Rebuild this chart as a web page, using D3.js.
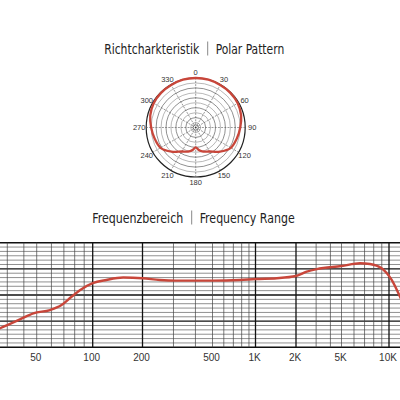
<!DOCTYPE html>
<html>
<head>
<meta charset="utf-8">
<script src="https://cdn.jsdelivr.net/npm/d3@7"></script>
<style>
  body { margin: 0; background: #fff; }
  svg { display: block; }
</style>
</head>
<body>
<div id="chart"></div>
<script>
// polar pattern: angle (deg, clockwise from front) and relative level (0..1)
const polarAngles = [0, 15, 30, 45, 60, 75, 90, 105, 120, 135, 150, 165, 172, 180, 188, 195, 210, 225, 240, 255, 270, 285, 300, 315, 330, 345];
const polarLevels = [1.0, 1.0, 0.99, 0.99, 0.98, 0.95, 0.9, 0.86, 0.82, 0.69, 0.56, 0.5, 0.46, 0.4, 0.46, 0.5, 0.56, 0.69, 0.82, 0.86, 0.9, 0.95, 0.98, 0.99, 0.99, 1.0];
const polarTicks = [0, 30, 60, 90, 120, 150, 180, 210, 240, 270, 300, 330];

// frequency response
const freqHz = [20, 30, 37.4, 47.2, 59, 68, 77, 87, 100, 121, 153, 200, 251, 310, 424, 500, 778, 1000, 1440, 2000, 2480, 3040, 5000, 6550, 7570, 8980, 10370, 11620, 12500];
const responseDb = [-27, -21.8, -19.2, -16.4, -14.9, -12.6, -8.8, -5.4, -2.6, -1.1, 0, -0.3, -1.1, -1.4, -1.4, -1.4, -1.1, -0.65, -0.3, 0.7, 2.7, 3.9, 5.3, 6.55, 6.2, 4.25, -1.1, -8.8, -14];
const freqTickValues = [50, 100, 200, 500, 1000, 2000, 5000, 10000];
const freqTickLabels = ["50", "100", "200", "500", "1K", "2K", "5K", "10K"];
const freqMajor = [100, 200, 1000, 2000, 10000];

const width = 400, height = 400;
const red = "#c8463a";
const titleFont = "'Liberation Sans Narrow', 'DejaVu Sans Condensed', 'Liberation Sans', sans-serif";
const labelFont = "'Liberation Sans', Arial, sans-serif";

const svg = d3.select("#chart").append("svg")
  .attr("width", width)
  .attr("height", height);

// title in three parts: left words, grey bar, right words
function title(y, barX, left, leftLen, right, rightLen) {
  const g = svg.append("g")
    .attr("font-family", titleFont)
    .attr("font-size", 14.5)
    .attr("fill", "#222");
  g.append("text")
    .attr("x", barX - 8.5)
    .attr("y", y)
    .attr("text-anchor", "end")
    .attr("textLength", leftLen)
    .attr("lengthAdjust", "spacingAndGlyphs")
    .text(left);
  g.append("line")
    .attr("x1", barX).attr("x2", barX)
    .attr("y1", y - 12).attr("y2", y + 2)
    .attr("stroke", "#888")
    .attr("stroke-width", 1);
  g.append("text")
    .attr("x", barX + 8)
    .attr("y", y)
    .attr("textLength", rightLen)
    .attr("lengthAdjust", "spacingAndGlyphs")
    .text(right);
}
title(53.5, 207.7, "Richtcharkteristik", 95, "Polar Pattern", 68.5);
title(222.5, 191.7, "Frequenzbereich", 91, "Frequency Range", 95);

// ---- polar plot
const cx = 195.7, cy = 127.5, R = 49.5;
const rScale = d3.scaleLinear().domain([0, 1]).range([0, R]);
const rad = a => a * Math.PI / 180;

const polar = svg.append("g").attr("transform", `translate(${cx},${cy})`);

polar.append("g")
  .selectAll("circle")
  .data(d3.range(1, 11))
  .join("circle")
  .attr("r", d => rScale(d / 10))
  .attr("fill", "none")
  .attr("stroke", d => (d === 10 ? "#222" : d % 2 === 0 ? "#444" : "#888"))
  .attr("stroke-width", d => (d === 10 ? 1.2 : 0.6));

polar.append("g")
  .selectAll("line")
  .data(polarTicks)
  .join("line")
  .attr("x1", d => Math.sin(rad(d)) * 3)
  .attr("y1", d => -Math.cos(rad(d)) * 3)
  .attr("x2", d => Math.sin(rad(d)) * R)
  .attr("y2", d => -Math.cos(rad(d)) * R)
  .attr("stroke", "#555")
  .attr("stroke-width", 0.6)
  .attr("stroke-dasharray", "2,1.2");

polar.append("circle").attr("r", 2.6).attr("fill", "none").attr("stroke", "#333").attr("stroke-width", 0.7);
polar.append("circle").attr("r", 1).attr("fill", "#333");

polar.append("g")
  .selectAll("text")
  .data(polarTicks)
  .join("text")
  .attr("x", d => Math.sin(rad(d)) * 56.5)
  .attr("y", d => -Math.cos(rad(d)) * 55)
  .attr("text-anchor", "middle")
  .attr("dominant-baseline", "central")
  .attr("font-family", labelFont)
  .attr("font-size", 7.5)
  .attr("fill", "#333")
  .text(d => d);

const polarData = polarAngles.map((a, i) => ({ a, v: polarLevels[i] }));
polar.append("path")
  .datum(polarData)
  .attr("fill", "none")
  .attr("stroke", red)
  .attr("stroke-width", 2.3)
  .attr("d", d3.lineRadial()
    .angle(d => rad(d.a))
    .radius(d => rScale(d.v))
    .curve(d3.curveCatmullRomClosed));

// ---- frequency response
const x = d3.scaleLog()
  .domain([20, 30, 50, 100, 200, 500, 1000, 2000, 5000, 10000, 20000])
  .range([-20, 7.3, 36.7, 92.7, 142.5, 212.5, 255.5, 296, 341.5, 389, 440]);
const y = d3.scaleLinear().domain([16, -32]).range([242.7, 347.3]);

const gridFreqs = [];
[10, 100, 1000, 10000].forEach(dec => {
  for (let k = 1; k < 10; k++) {
    const f = dec * k;
    if (f >= 20 && f <= 20000) gridFreqs.push(f);
  }
});

const grid = svg.append("g");
grid.selectAll("line.h")
  .data(d3.range(-32, 17, 2))
  .join("line")
  .attr("class", "h")
  .attr("x1", 0)
  .attr("x2", width)
  .attr("y1", d => y(d))
  .attr("y2", d => y(d))
  .attr("stroke", d => ((d + 32) % 12 === 0 ? "#111" : "#444"))
  .attr("stroke-width", d => ((d + 32) % 12 === 0 ? 1.4 : 0.6));

grid.selectAll("line.v")
  .data(gridFreqs)
  .join("line")
  .attr("class", "v")
  .attr("x1", d => x(d))
  .attr("x2", d => x(d))
  .attr("y1", y(16))
  .attr("y2", y(-32))
  .attr("stroke", d => (freqMajor.includes(d) ? "#111" : "#444"))
  .attr("stroke-width", d => (freqMajor.includes(d) ? 1.3 : 0.7));

svg.append("g")
  .selectAll("text")
  .data(freqTickValues)
  .join("text")
  .attr("x", d => x(d) - 1)
  .attr("y", 360.5)
  .attr("text-anchor", "middle")
  .attr("font-family", labelFont)
  .attr("font-size", 10)
  .attr("fill", "#333")
  .text((d, i) => freqTickLabels[i]);

const respData = freqHz.map((f, i) => ({ f, db: responseDb[i] }));
svg.append("path")
  .datum(respData)
  .attr("fill", "none")
  .attr("stroke", red)
  .attr("stroke-width", 2.4)
  .attr("stroke-linecap", "round")
  .attr("d", d3.line()
    .x(d => x(d.f))
    .y(d => y(d.db))
    .curve(d3.curveMonotoneX));
</script>
</body>
</html>
